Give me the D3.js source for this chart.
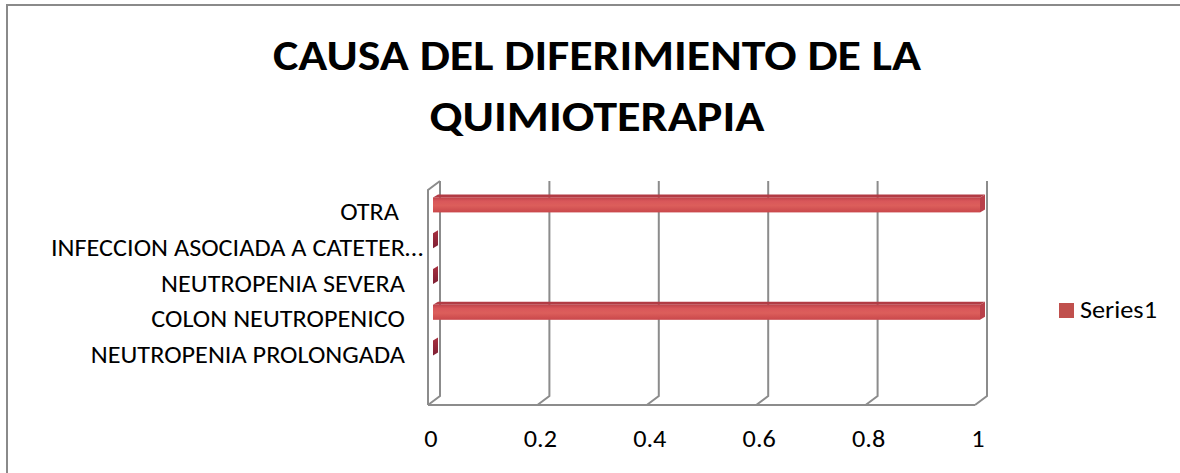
<!DOCTYPE html>
<html>
<head>
<meta charset="utf-8">
<script src="https://cdn.jsdelivr.net/npm/d3@7"></script>
<style>
  html, body { margin: 0; padding: 0; background: #fff; }
  svg { display: block; }
  text { font-family: Calibri, Carlito, Lato, "Open Sans", sans-serif; fill: #000; white-space: pre; }
</style>
</head>
<body>
<svg id="chart" width="1180" height="473"></svg>
<script>
// Chart content
const titleLines = ["CAUSA DEL DIFERIMIENTO DE LA", "QUIMIOTERAPIA"];
const categories = ["NEUTROPENIA PROLONGADA", "COLON NEUTROPENICO", "NEUTROPENIA SEVERA", "INFECCION ASOCIADA A CATETER…", "OTRA "];
const values = [0, 1, 0, 0, 1];
const seriesName = "Series1";
const tickValues = [0, 0.2, 0.4, 0.6, 0.8, 1];
const tickLabels = ["0", "0.2", "0.4", "0.6", "0.8", "1"];

const svg = d3.select("#chart");

// horizontal stretch so the fallback face runs about as wide as Calibri at this size
const stretch = 1.05;
function fit(sel, k) {
  sel.each(function () {
    const len = this.getComputedTextLength();
    if (len > 0) d3.select(this).attr("textLength", len * k).attr("lengthAdjust", "spacingAndGlyphs");
  });
}

// chart-area border
svg.append("rect")
  .attr("x", 7).attr("y", 5).attr("width", 1300).attr("height", 600)
  .attr("fill", "#fff").attr("stroke", "#8a8a8a").attr("stroke-width", 2);

// title
const titleY = [70, 131];
const titleW = [648, 335];
svg.selectAll("text.title").data(titleLines).join("text")
  .attr("class", "title")
  .attr("x", 597).attr("y", (d, i) => titleY[i])
  .attr("text-anchor", "middle")
  .attr("font-size", 43).attr("font-weight", "bold")
  .attr("textLength", (d, i) => titleW[i])
  .attr("lengthAdjust", "spacingAndGlyphs")
  .text(d => d);

// 3D plot geometry: front plane scale plus a depth offset to the back wall
const x = d3.scaleLinear().domain([0, 1]).range([428, 975]);
const depth = { dx: 12, dy: -9 };
const floorY = 405, topY = 190;
const y = d3.scaleBand().domain(categories.slice().reverse()).range([187, 366]);

const grid = svg.append("g").attr("fill", "none").attr("stroke", "#8c8c8c").attr("stroke-width", 2)
  .attr("stroke-linejoin", "miter");

// left wall outline
grid.append("path").attr("d", d3.line()([
  [x(0), floorY], [x(0), topY], [x(0) + depth.dx, topY + depth.dy]
]));
// floor front edge
grid.append("path").attr("d", d3.line()([[x(0), floorY], [x(1), floorY]]));
// gridlines on back wall running down and forward across the floor
grid.selectAll("path.gl").data(tickValues).join("path")
  .attr("class", "gl")
  .attr("d", v => d3.line()([
    [x(v) + depth.dx, topY + depth.dy],
    [x(v) + depth.dx, floorY + depth.dy],
    [x(v), floorY]
  ]));

// bar gradients
const defs = svg.append("defs");
const g1 = defs.append("linearGradient").attr("id", "barFront").attr("x1", 0).attr("y1", 0).attr("x2", 0).attr("y2", 1);
[["0%", "#c0444a"], ["25%", "#d9575a"], ["55%", "#dc5e5b"], ["100%", "#c9474b"]]
  .forEach(([o, c]) => g1.append("stop").attr("offset", o).attr("stop-color", c));
const g2 = defs.append("linearGradient").attr("id", "barEnd").attr("x1", 0).attr("y1", 0).attr("x2", 0).attr("y2", 1);
[["0%", "#a8303f"], ["100%", "#7e1f33"]]
  .forEach(([o, c]) => g2.append("stop").attr("offset", o).attr("stop-color", c));

// bars: front face, top face and end face of each box
const barH = 15, barOff = 5, bd = { dx: 5, dy: -3 };
const data = categories.map((c, i) => ({ c, v: values[i] }));
const bars = svg.append("g").selectAll("g").data(data).join("g");
bars.each(function (d) {
  const gEl = d3.select(this);
  const cy = y(d.c) + y.bandwidth() / 2;
  const x0 = x(0) + barOff, x1 = x(d.v) + barOff;
  const t = cy - barH / 2, b = cy + barH / 2;
  if (x1 - x0 > 0.5) {
    gEl.append("path").attr("fill", "#b23b44")
      .attr("d", d3.line()([[x0, t], [x1, t], [x1 + bd.dx, t + bd.dy], [x0 + bd.dx, t + bd.dy]]) + "Z");
    gEl.append("rect").attr("x", x0).attr("y", t).attr("width", x1 - x0).attr("height", barH)
      .attr("fill", "url(#barFront)");
    gEl.append("path").attr("fill", "#b8404a")
      .attr("d", d3.line()([[x1, t], [x1 + bd.dx, t + bd.dy], [x1 + bd.dx, b + bd.dy], [x1, b]]) + "Z");
  } else {
    gEl.append("path").attr("fill", "url(#barEnd)")
      .attr("d", d3.line()([[x1, t], [x1 + bd.dx, t + bd.dy], [x1 + bd.dx, b + bd.dy], [x1, b]]) + "Z");
  }
});

// category labels, right aligned; a trailing ellipsis overhangs the column
const labelRight = 405, labelSize = 25;
const labels = svg.append("g");
categories.forEach(c => {
  const cy = y(c) + y.bandwidth() / 2;
  const ell = c.endsWith("…");
  const t = labels.append("text").attr("y", cy + 15).attr("font-size", labelSize).text(c);
  const node = t.node();
  const full = node.getComputedTextLength();
  const main = ell ? node.getSubStringLength(0, c.length - 1) : full;
  t.attr("x", labelRight - main * stretch)
    .attr("textLength", full * stretch).attr("lengthAdjust", "spacingAndGlyphs");
});

// value axis tick labels
const ticks = svg.append("g").selectAll("text").data(tickValues).join("text")
  .attr("x", v => x(v) + 3).attr("y", 447)
  .attr("text-anchor", "middle").attr("font-size", labelSize)
  .text((v, i) => tickLabels[i]);
fit(ticks, stretch);

// legend
svg.append("rect").attr("x", 1059).attr("y", 303).attr("width", 15).attr("height", 15).attr("fill", "#c0504d");
const lg = svg.append("text").attr("x", 1080).attr("y", 318).attr("font-size", labelSize).text(seriesName);
fit(lg, stretch);
</script>
</body>
</html>
